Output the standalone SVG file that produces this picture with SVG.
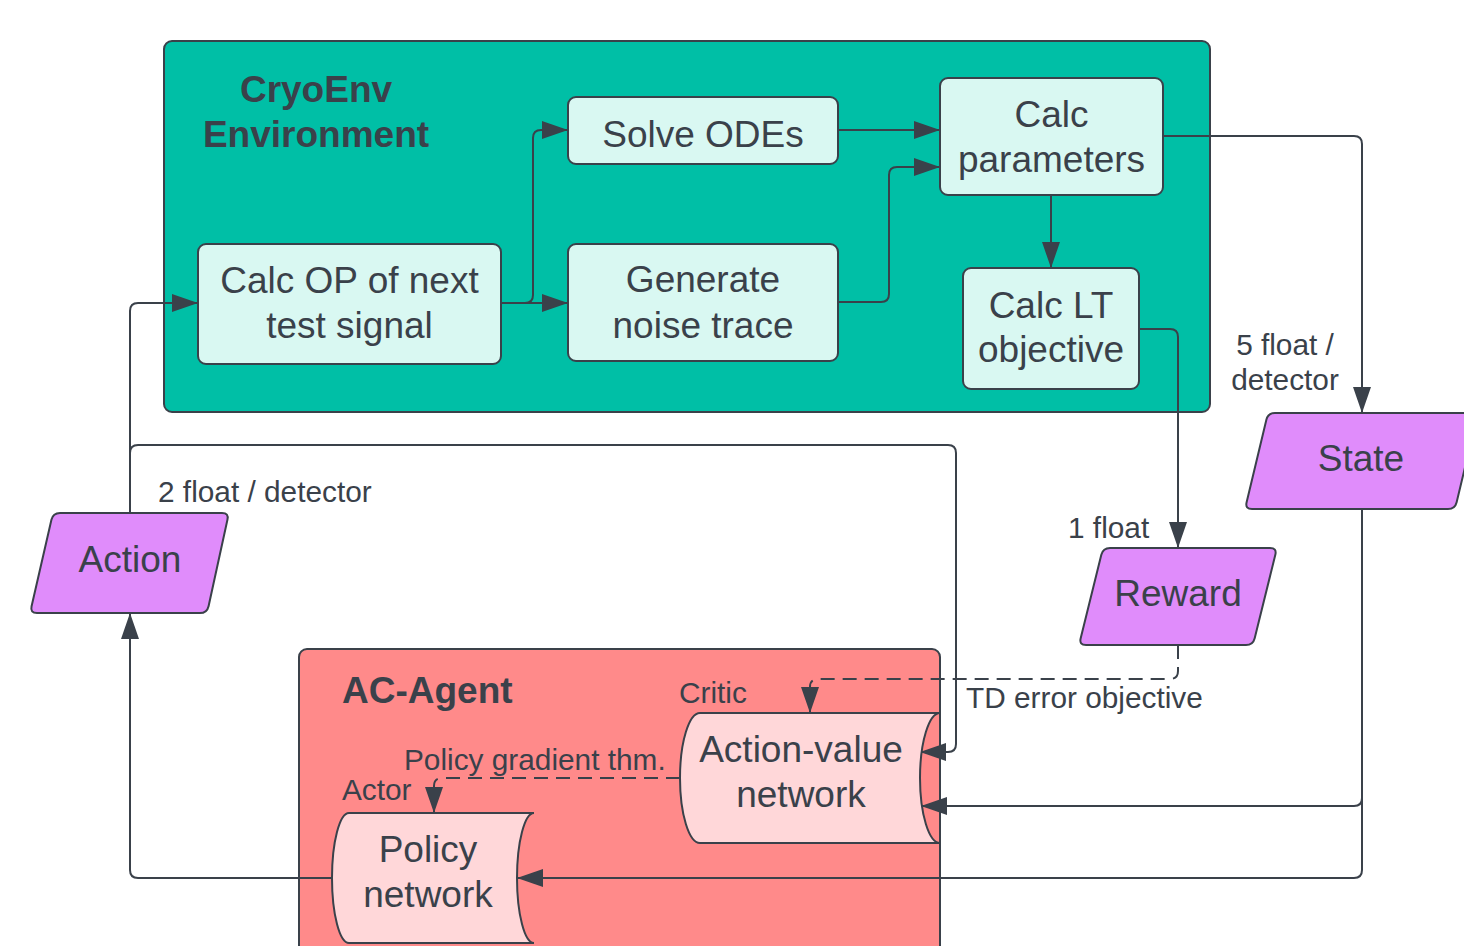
<svg xmlns="http://www.w3.org/2000/svg" width="1464" height="946" viewBox="0 0 1464 946">
  <defs>
    <marker id="arr" viewBox="0 0 26 18" refX="26" refY="9" markerWidth="26" markerHeight="18" markerUnits="userSpaceOnUse" orient="auto">
      <path d="M0,0 L26,9 L0,18 Z" fill="#3A414A"/>
    </marker>
    <style>
      text { font-family: "Liberation Sans", Arial, sans-serif; fill: #3A414A; }
      .node { font-size: 37px; text-anchor: middle; }
      .title { font-size: 37px; font-weight: bold; }
      .lbl { font-size: 29.8px; }
      .box { fill: #D9F8F2; stroke: #3A414A; stroke-width: 2; }
      .para { fill: #E08CFB; stroke: #3A414A; stroke-width: 2; }
      .net { fill: #FFD7D9; stroke: #3A414A; stroke-width: 2; }
      .conn { fill: none; stroke: #3A414A; stroke-width: 2; marker-end: url(#arr); }
      .dash { fill: none; stroke: #3A414A; stroke-width: 2; stroke-dasharray: 14 8; marker-end: url(#arr); }
    </style>
  </defs>
  <rect width="1464" height="946" fill="#FFFFFF"/>

  <g id="env">
    <rect x="164" y="41" width="1046" height="371" rx="8" fill="#00BFA6" stroke="#3A414A" stroke-width="2"/>
    <text class="title" x="316" y="102" text-anchor="middle">CryoEnv</text>
    <text class="title" x="316" y="147" text-anchor="middle">Environment</text>
  </g>

  <g id="agent">
    <rect x="299" y="649" width="641" height="320" rx="8" fill="#FF8A8A" stroke="#3A414A" stroke-width="2"/>
    <text class="title" x="342" y="703">AC-Agent</text>
  </g>

  <g id="connectors">
    <path class="conn" d="M501,303 H568"/>
    <path class="conn" d="M501,303 H525 Q533,303 533,295 V138 Q533,130 541,130 H568"/>
    <path class="conn" d="M838,130 H940"/>
    <path class="conn" d="M838,302 H881 Q889,302 889,294 V175 Q889,167 897,167 H940"/>
    <path class="conn" d="M1051,195 V268"/>
    <path class="conn" d="M1163,136 H1354 Q1362,136 1362,144 V413"/>
    <path class="conn" d="M1139,329 H1170 Q1178,329 1178,337 V548"/>
    <path class="conn" d="M130,513 V311 Q130,303 138,303 H198"/>
    <path class="conn" d="M130,513 V453 Q130,445 138,445 H948 Q956,445 956,453 V744 Q956,752 948,752 H920"/>
    <path class="conn" d="M1362,509 V798 Q1362,806 1354,806 H921"/>
    <path class="conn" d="M1362,509 V870 Q1362,878 1354,878 H517"/>
    <path class="conn" d="M333,878 H138 Q130,878 130,870 V613"/>
    <path class="dash" d="M1178,645 V671 Q1178,679 1170,679 H818 Q810,679 810,687 V713"/>
    <path class="dash" d="M680,778 H442 Q434,778 434,786 V813"/>
    <text class="lbl" x="158" y="502">2 float / detector</text>
    <text class="lbl" x="1068" y="538">1 float</text>
    <text class="lbl" x="1285" y="355" text-anchor="middle">5 float /</text>
    <text class="lbl" x="1285" y="390" text-anchor="middle">detector</text>
    <text class="lbl" x="966" y="708">TD error objective</text>
    <text class="lbl" x="404" y="770">Policy gradient thm.</text>
  </g>

  <g id="calc-op">
    <rect class="box" x="198" y="244" width="303" height="120" rx="8"/>
    <text class="node" x="349.5" y="293">Calc OP of next</text>
    <text class="node" x="349.5" y="338">test signal</text>
  </g>
  <g id="solve-odes">
    <rect class="box" x="568" y="97" width="270" height="67" rx="8"/>
    <text class="node" x="703" y="147">Solve ODEs</text>
  </g>
  <g id="generate-noise">
    <rect class="box" x="568" y="244" width="270" height="117" rx="8"/>
    <text class="node" x="703" y="292">Generate</text>
    <text class="node" x="703" y="338">noise trace</text>
  </g>
  <g id="calc-params">
    <rect class="box" x="940" y="78" width="223" height="117" rx="8"/>
    <text class="node" x="1051.5" y="127">Calc</text>
    <text class="node" x="1051.5" y="172">parameters</text>
  </g>
  <g id="calc-lt">
    <rect class="box" x="963" y="268" width="176" height="121" rx="8"/>
    <text class="node" x="1051" y="318">Calc LT</text>
    <text class="node" x="1051" y="362">objective</text>
  </g>

  <g id="action">
    <path class="para" d="M60,513 H222 Q229,513 227.43,519.82 L208.57,606.18 Q207,613 200,613 H37 Q30,613 31.57,606.18 L51.43,519.82 Q53,513 60,513 Z"/>
    <text class="node" x="130" y="572">Action</text>
  </g>
  <g id="reward">
    <path class="para" d="M1110,548 H1270 Q1277,548 1275.32,554.8 L1254.68,638.2 Q1253,645 1246,645 H1086 Q1079,645 1080.68,638.2 L1101.32,554.8 Q1103,548 1110,548 Z"/>
    <text class="node" x="1178" y="606">Reward</text>
  </g>
  <g id="state">
    <path class="para" d="M1275,413 H1471 Q1478,413 1476.37,419.8 L1456.63,502.2 Q1455,509 1448,509 H1252 Q1245,509 1246.63,502.2 L1266.37,419.8 Q1268,413 1275,413 Z"/>
    <text class="node" x="1361" y="471">State</text>
  </g>

  <g id="action-value">
    <path class="net" d="M700,713 H940 A20,65 0 0 0 940,843 H700 A20,65 0 0 1 700,713 Z"/>
    <text class="lbl" x="679" y="703">Critic</text>
    <text class="node" x="801" y="762">Action-value</text>
    <text class="node" x="801" y="807">network</text>
  </g>
  <g id="policy">
    <path class="net" d="M349,813 H534 A17,65 0 0 0 534,943 H349 A17,65 0 0 1 349,813 Z"/>
    <text class="lbl" x="342" y="800">Actor</text>
    <text class="node" x="428" y="862">Policy</text>
    <text class="node" x="428" y="907">network</text>
  </g>
</svg>
